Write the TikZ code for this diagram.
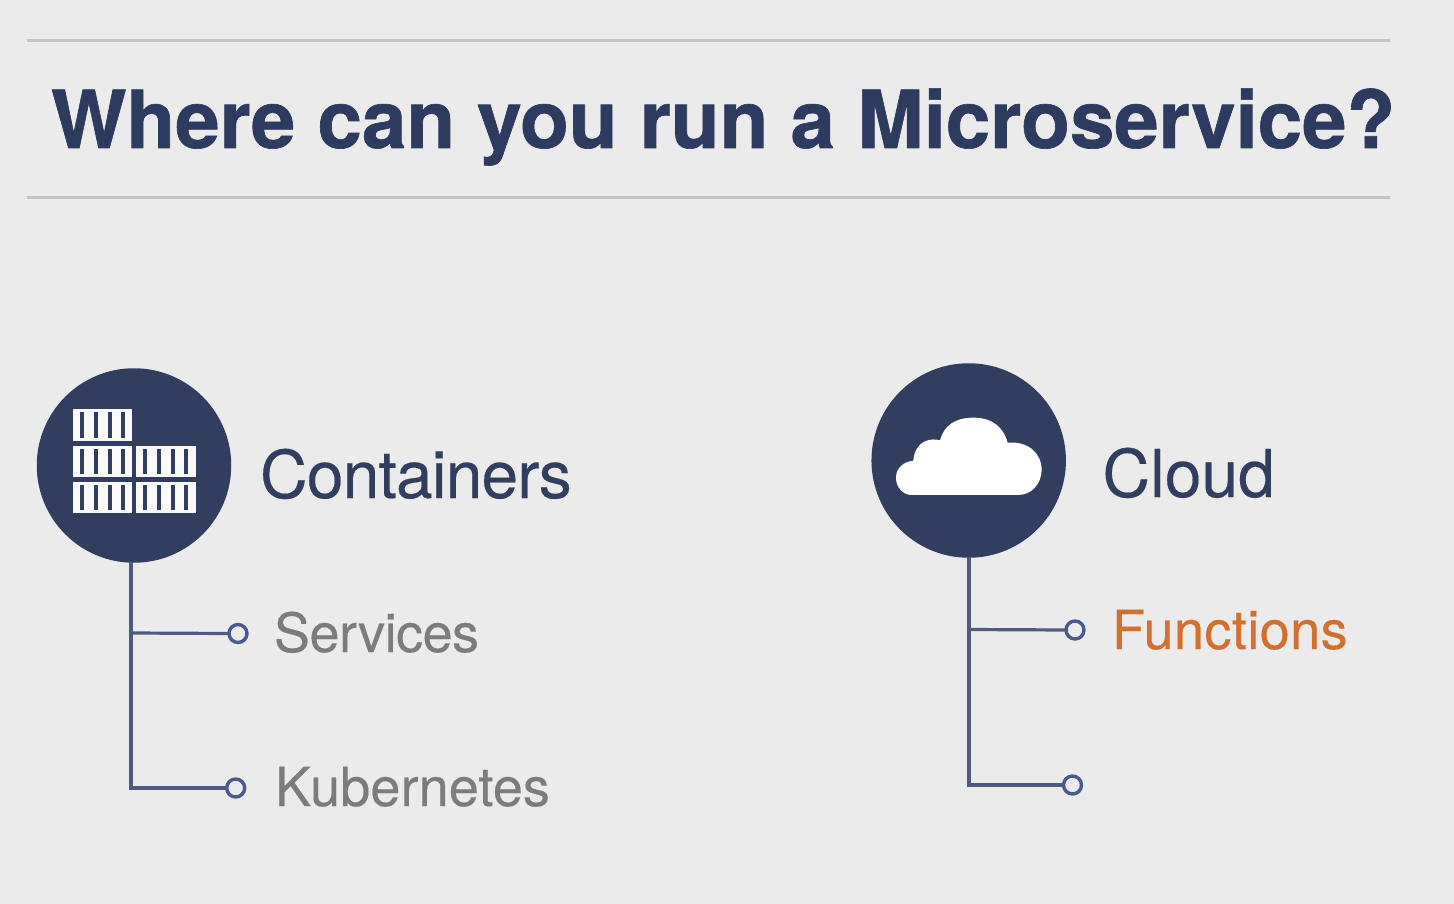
\documentclass[tikz,border=0pt]{standalone}
\usepackage{fontspec}
\setmainfont{TeX Gyre Heros}
\definecolor{bgc}{HTML}{EBEBEB}
\definecolor{navy}{HTML}{323E60}
\definecolor{titlec}{HTML}{2E3B60}
\definecolor{linec}{HTML}{4F5A80}
\definecolor{bulletc}{HTML}{4A5A90}
\definecolor{greyt}{HTML}{7C7C7C}
\definecolor{orangec}{HTML}{D2702F}
\definecolor{rulec}{HTML}{C4C4C4}
\newfontfamily\titlefont[FakeBold=0.8,LetterSpace=-0.15]{TeX Gyre Heros Bold}
\newfontfamily\softfont[FakeBold=0.25]{TeX Gyre Heros}
\tikzset{
  txt/.style={anchor=base west,inner sep=0pt,outer sep=0pt},
  titletxt/.style={txt,text=titlec,font=\fontsize{80}{90}\titlefont},
  headtxt/.style={txt,text=navy,font=\fontsize{66}{72}\softfont},
  subtxt/.style={txt,font=\fontsize{54}{60}\softfont},
  disc/.style={circle,fill=navy,minimum size=194.5pt,inner sep=0pt,outer sep=0pt},
  bulletn/.style={circle,draw=bulletc,line width=3.4pt,fill=bgc,minimum size=18pt,inner sep=0pt,outer sep=0pt},
  conn/.style={draw=linec,line width=3.2pt,line cap=butt,line join=miter},
  rulel/.style={draw=rulec,line width=3pt},
  crate/.style={fill=white!70!bgc},
  slot/.style={fill=navy}
}
\newcommand{\slotrow}[4]{%
  \fill[crate] (#1,#2) rectangle (#3,#4);
  \foreach \k in {0,1,2,3}{
    \fill[slot] ({#1+9.3+13.6*\k-2},{#2+3}) rectangle ({#1+9.3+13.6*\k+2},{#4-3});
  }}
\begin{document}
\begin{tikzpicture}[x=1pt,y=-1pt]
\useasboundingbox (0,0) rectangle (1454,904);
\fill[bgc] (0,0) rectangle (1454,904);
% rules
\coordinate (r1a) at (27,40.5); \coordinate (r1b) at (1390,40.5);
\coordinate (r2a) at (27,197.5); \coordinate (r2b) at (1390,197.5);
\draw[rulel] (r1a) -- (r1b);
\draw[rulel] (r2a) -- (r2b);
\node[titletxt] (title) at (51,148) {Where can you run a Microservice?};
% discs
\node[disc] (cont) at (134,465.5) {};
\node[disc] (cloud) at (968.7,460.5) {};
% container icon
\slotrow{73}{409}{132}{441}
\slotrow{73}{446}{132}{477}
\slotrow{73}{482}{132}{513}
\slotrow{136}{446}{196}{477}
\slotrow{136}{482}{196}{513}
% cloud icon
\begin{scope}[shift={(860,355)},x=0.3333pt,y=-0.3333pt]
\fill[white] (155,420) -- (475,420) .. controls (515,420) and (545,385) .. (545,345)
 .. controls (545,295) and (505,258) .. (443,263)
 .. controls (430,215) and (395,188) .. (340,188)
 .. controls (285,188) and (252,212) .. (240,256)
 .. controls (215,248) and (165,255) .. (160,317)
 .. controls (130,320) and (108,340) .. (108,368)
 .. controls (108,398) and (130,420) .. (155,420) -- cycle;
\end{scope}
% bullets
\node[bulletn] (b1) at (238,633.5) {};
\node[bulletn] (b2) at (235.7,788) {};
\node[bulletn] (b3) at (1075,630) {};
\node[bulletn] (b4) at (1072.5,785) {};
% junctions
\coordinate (t1) at (131,562);
\coordinate (c1) at (131,633);
\coordinate (c2) at (131,788);
\coordinate (t2) at (969,557);
\coordinate (c3) at (969,629.5);
\coordinate (c4) at (969,785);
\draw[conn] (t1) -- (c2) -- (b2.west);
\draw[conn] (c1) -- (b1.west);
\draw[conn] (t2) -- (c4) -- (b4.west);
\draw[conn] (c3) -- (b3.west);
% labels
\node[headtxt] (lc) at (260,498) {\addfontfeature{LetterSpace=-1.3}Containers};
\node[headtxt] (lk) at (1102.5,497) {Cloud};
\node[subtxt,text=greyt] (ls) at (274,652) {\addfontfeature{LetterSpace=-0.95}Services};
\node[subtxt,text=greyt] (lu) at (275,806) {\addfontfeature{LetterSpace=0.25}Kubernetes};
\node[subtxt,text=orangec] (lf) at (1112,649) {\addfontfeature{LetterSpace=0.8}Functions};
\end{tikzpicture}
\end{document}
